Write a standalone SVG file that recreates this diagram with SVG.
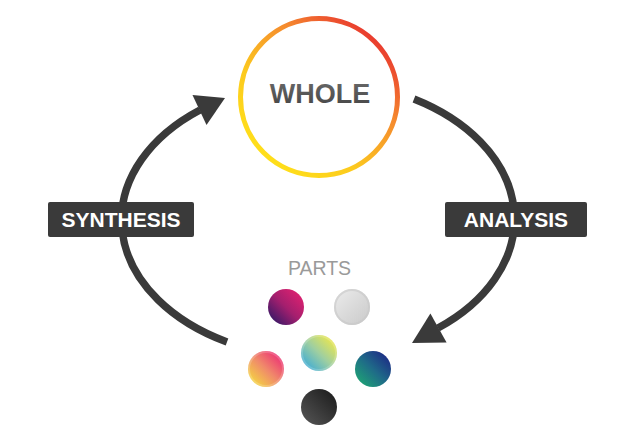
<svg xmlns="http://www.w3.org/2000/svg" width="640" height="444" viewBox="0 0 640 444">
<defs>
<style>
.conn{fill:none;stroke:#3a3a3a;stroke-width:7.5}
.head{fill:#3a3a3a}
.box{fill:#3a3a3a}
.lbl{font-family:"Liberation Sans",Arial,sans-serif;font-weight:bold;font-size:21px;fill:#fff;text-anchor:middle}
.rim{fill:none;stroke:#fff;stroke-opacity:0.18;stroke-width:2}
</style>
<linearGradient id="ring" x1="0.9" y1="0.05" x2="0.15" y2="0.9">
<stop offset="0" stop-color="#e6262f"/>
<stop offset="0.35" stop-color="#f58a2e"/>
<stop offset="0.7" stop-color="#fcc91e"/>
<stop offset="1" stop-color="#ffe01a"/>
</linearGradient>
<linearGradient id="txt" x1="0" y1="0" x2="0" y2="1">
<stop offset="0" stop-color="#6a6a6a"/>
<stop offset="1" stop-color="#444"/>
</linearGradient>
<linearGradient id="g1" x1="1" y1="0" x2="0" y2="1"><stop offset="0.1" stop-color="#df2170"/><stop offset="0.5" stop-color="#a41f6e"/><stop offset="0.95" stop-color="#2a1866"/></linearGradient>
<linearGradient id="g2" x1="0" y1="0" x2="1" y2="1"><stop offset="0" stop-color="#ececec"/><stop offset="1" stop-color="#c9c9c9"/></linearGradient>
<linearGradient id="g3" x1="1" y1="0" x2="0" y2="1"><stop offset="0.1" stop-color="#efe84a"/><stop offset="0.5" stop-color="#9fcfa0"/><stop offset="0.95" stop-color="#30a6de"/></linearGradient>
<linearGradient id="g4" x1="1" y1="0" x2="0" y2="1"><stop offset="0.1" stop-color="#ec2d75"/><stop offset="0.5" stop-color="#f08a6a"/><stop offset="0.95" stop-color="#f5e23a"/></linearGradient>
<linearGradient id="g5" x1="1" y1="0" x2="0" y2="1"><stop offset="0.1" stop-color="#1d2b86"/><stop offset="0.5" stop-color="#1f6a88"/><stop offset="0.95" stop-color="#1eaa72"/></linearGradient>
<linearGradient id="g6" x1="1" y1="0" x2="0" y2="1"><stop offset="0.1" stop-color="#1f1f1f"/><stop offset="1" stop-color="#575757"/></linearGradient>
</defs>
<rect width="640" height="444" fill="#fff"/>
<g id="connectors">
<path class="conn" d="M227,342 A198,138 0 0 1 200,110"/>
<polygon class="head" points="225,98 192.5,95 206.5,125"/>
<path class="conn" d="M414,99 A198,138 0 0 1 438,328"/>
<polygon class="head" points="412,343 430.4,313.6 446.6,342.4"/>
</g>
<g id="whole">
<circle cx="319" cy="97" r="78.5" fill="#fff" stroke="url(#ring)" stroke-width="5"/>
<text x="320" y="103" font-family="'Liberation Sans',Arial,sans-serif" font-weight="bold" font-size="27" fill="url(#txt)" text-anchor="middle">WHOLE</text>
</g>
<g id="synthesis">
<rect class="box" x="48" y="202" width="146" height="35" rx="2"/>
<text class="lbl" x="121" y="227">SYNTHESIS</text>
</g>
<g id="analysis">
<rect class="box" x="445" y="202" width="142" height="35" rx="2"/>
<text class="lbl" x="516" y="227">ANALYSIS</text>
</g>
<g id="parts">
<text x="319.5" y="275" font-family="'Liberation Sans',Arial,sans-serif" font-size="19.5" fill="#9a9a9a" text-anchor="middle">PARTS</text>
<circle cx="286" cy="307" r="18" fill="url(#g1)"/>
<circle cx="352" cy="307" r="18" fill="url(#g2)"/>
<circle cx="352" cy="307" r="17" fill="none" stroke="#c8c8c8" stroke-opacity="0.6" stroke-width="2"/>
<circle cx="319" cy="353" r="18" fill="url(#g3)"/>
<circle cx="319" cy="353" r="17" class="rim"/>
<circle cx="266" cy="369" r="18" fill="url(#g4)"/>
<circle cx="266" cy="369" r="17" class="rim"/>
<circle cx="373" cy="369" r="18" fill="url(#g5)"/>
<circle cx="319" cy="407" r="18" fill="url(#g6)"/>
</g>
</svg>
